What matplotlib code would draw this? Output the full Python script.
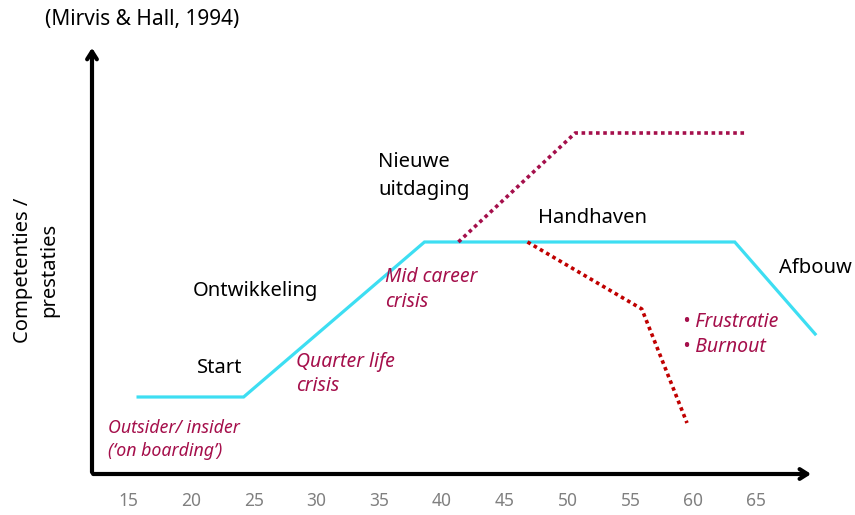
import matplotlib
matplotlib.use('Agg')
import matplotlib.pyplot as plt

plt.rcParams['font.family'] = ['Noto Sans', 'DejaVu Sans']

# career curve (age, level)
career_age = [15.8, 24.2, 38.6, 63.3, 69.7]
career_level = [7.7, 7.7, 23.2, 23.2, 14.0]

# new challenge branch
challenge_age = [41.3, 50.6, 64.1]
challenge_level = [23.2, 34.1, 34.1]

# frustration / burnout branch
burnout_age = [46.8, 55.9, 59.5]
burnout_level = [23.2, 16.5, 5.1]

ages = [15, 20, 25, 30, 35, 40, 45, 50, 55, 60, 65]

cyan = '#3DDEF2'
crimson = '#A50F4B'
red = '#C00000'

fig = plt.figure(figsize=(8.55, 5.15), dpi=100)
ax = fig.add_axes([92/855, 41/515, 721/855, 424/515])
ax.set_xlim(12.13, 69.53)
ax.set_ylim(0, 42.4)
for s in ax.spines.values():
    s.set_visible(False)
ax.set_xticks(ages)
ax.set_xticklabels([str(a) for a in ages])
ax.tick_params(axis='x', length=0, pad=13, labelsize=12.5, labelcolor='#808080')
ax.set_yticks([])

# axes with arrows
ax.annotate('', xy=(12.13, 42.9), xytext=(12.13, -0.1),
            arrowprops=dict(arrowstyle='->,head_length=0.55,head_width=0.35', lw=3, color='black'),
            annotation_clip=False)
ax.annotate('', xy=(69.6, 0), xytext=(12.0, 0),
            arrowprops=dict(arrowstyle='->,head_length=0.55,head_width=0.35', lw=3, color='black'),
            annotation_clip=False)

ax.plot(career_age, career_level, color=cyan, lw=2.3, clip_on=False, solid_joinstyle='miter')
ax.plot(challenge_age, challenge_level, color=crimson, lw=2.6, ls=(0, (1, 1)), clip_on=False)
ax.plot(burnout_age, burnout_level, color=red, lw=2.6, ls=(0, (1, 1)), clip_on=False)

# labels
black = dict(fontsize=14.5, color='black')
ax.text(16.1, 45.5, '(Mirvis & Hall, 1994)', ha='center', va='center', fontsize=15)
ax.text(7.67, 20.4, 'Competenties /\nprestaties', ha='center', va='center', rotation=90,
        linespacing=1.4, **black)
ax.text(22.32, 10.6, 'Start', ha='center', va='center', **black)
ax.text(25.11, 18.3, 'Ontwikkeling', ha='center', va='center', **black)
ax.text(34.9, 29.8, 'Nieuwe\nuitdaging', ha='left', va='center', linespacing=1.5, **black)
ax.text(51.94, 25.6, 'Handhaven', ha='center', va='center', **black)
ax.text(69.7, 20.6, 'Afbouw', ha='center', va='center', **black)

red_txt = dict(color=crimson, style='italic', ha='left', va='center', linespacing=1.3)
ax.text(35.46, 18.45, 'Mid career\ncrisis', fontsize=14, **red_txt)
ax.text(28.38, 10.0, 'Quarter life\ncrisis', fontsize=14, **red_txt)
ax.text(13.41, 3.45, 'Outsider/ insider\n(\u2018on boarding\u2019)', fontsize=12.8, **red_txt)
ax.text(59.19, 13.95, '\u2022 Frustratie\n\u2022 Burnout', fontsize=14, **red_txt)

fig.savefig('out.png', dpi=100)
